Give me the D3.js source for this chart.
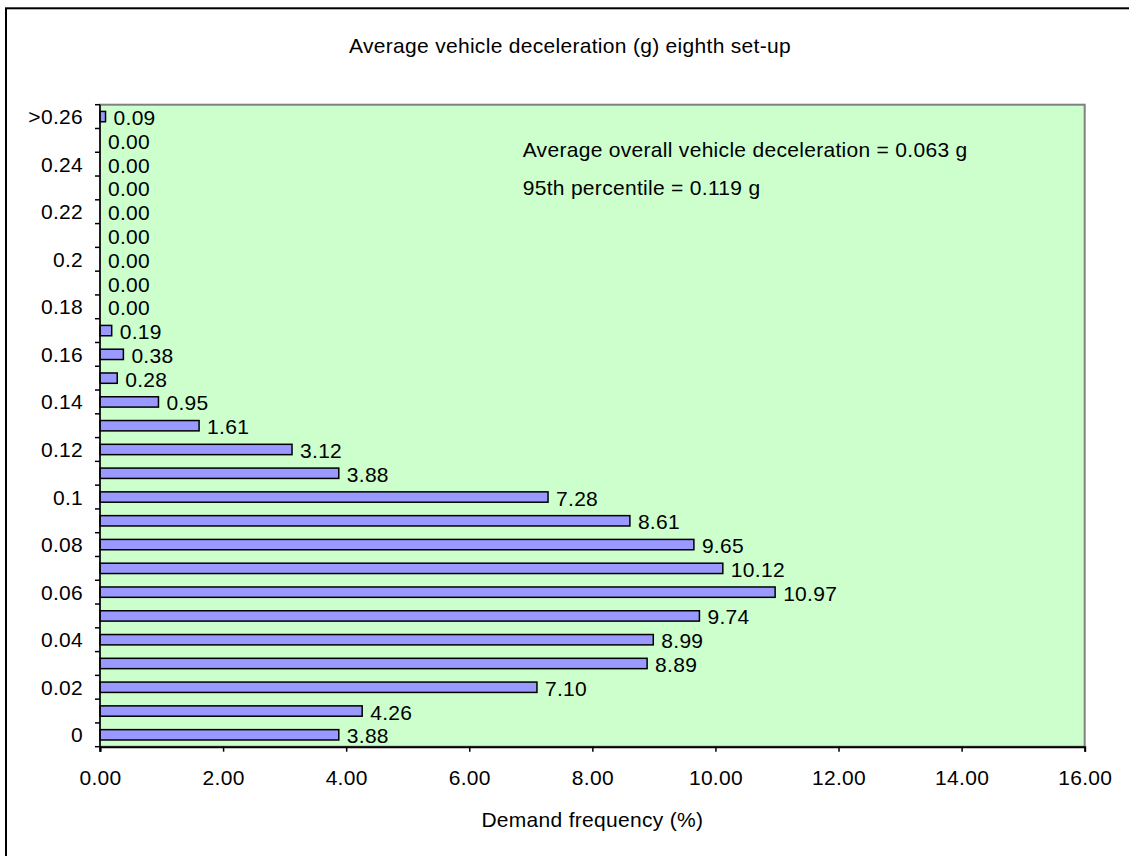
<!DOCTYPE html>
<html>
<head>
<meta charset="utf-8">
<script src="https://cdn.jsdelivr.net/npm/d3@7/dist/d3.min.js"></script>
<style>
  html, body { margin: 0; padding: 0; background: #ffffff; }
  svg { display: block; font-family: "Liberation Sans", Arial, sans-serif; }
  svg text { letter-spacing: 0.3px; }
</style>
</head>
<body>
<svg id="chart" width="1129" height="856"></svg>
<script>
// Deceleration classes (g), bottom to top
const categories = ["0","0.01","0.02","0.03","0.04","0.05","0.06","0.07","0.08","0.09",
  "0.1","0.11","0.12","0.13","0.14","0.15","0.16","0.17","0.18","0.19",
  "0.2","0.21","0.22","0.23","0.24","0.25",">0.26"];
// Demand frequency (%) for each class
const frequency = [3.88, 4.26, 7.10, 8.89, 8.99, 9.74, 10.97, 10.12, 9.65, 8.61,
  7.28, 3.88, 3.12, 1.61, 0.95, 0.28, 0.38, 0.19, 0.00, 0.00,
  0.00, 0.00, 0.00, 0.00, 0.00, 0.00, 0.09];
// Category labels shown on the vertical axis
const categoryTickLabels = ["0","0.02","0.04","0.06","0.08","0.1","0.12","0.14","0.16","0.18","0.2","0.22","0.24",">0.26"];
const xTicks = [0, 2, 4, 6, 8, 10, 12, 14, 16];
const xDomain = [0, 16];

const chartTitle = "Average vehicle deceleration (g) eighth set-up";
const xTitle = "Demand frequency (%)";
const notes = ["Average overall vehicle deceleration = 0.063 g", "95th percentile = 0.119 g"];

const svg = d3.select("#chart");
const plot = { left: 100, top: 104.7, right: 1084.7, bottom: 746.7 };

// Chart area frame (runs off the right and bottom edges)
svg.append("rect")
  .attr("x", 6).attr("y", 8.3)
  .attr("width", 1200).attr("height", 1000)
  .attr("fill", "#ffffff").attr("stroke", "#000000").attr("stroke-width", 2);

// Plot area
svg.append("rect")
  .attr("x", plot.left).attr("y", plot.top)
  .attr("width", plot.right - plot.left).attr("height", plot.bottom - plot.top)
  .attr("fill", "#ccffcc").attr("stroke", "#808080").attr("stroke-width", 2);

const x = d3.scaleLinear().domain(xDomain).range([plot.left, plot.right]);
const y = d3.scaleBand().domain(categories)
  .range([plot.bottom, plot.top])
  .paddingInner(0.565).paddingOuter(0.2825);
const yMid = c => y(c) + y.bandwidth() / 2;
// Index scale for boundary ticks between classes
const yIdx = d3.scaleLinear().domain([0, categories.length]).range([plot.bottom, plot.top]);

const rows = categories.map((c, i) => ({ c, v: frequency[i] }));

// Bars
svg.append("g").selectAll("rect")
  .data(rows.filter(d => d.v > 0))
  .join("rect")
  .attr("x", x(0))
  .attr("y", d => y(d.c))
  .attr("width", d => x(d.v) - x(0))
  .attr("height", y.bandwidth())
  .attr("fill", "#9999ff").attr("stroke", "#000000").attr("stroke-width", 1.5);

// Value labels
svg.append("g").selectAll("text")
  .data(rows)
  .join("text")
  .attr("x", d => x(d.v) + 8)
  .attr("y", d => yMid(d.c) + 1)
  .attr("dominant-baseline", "central")
  .attr("font-size", 21)
  .attr("fill", "#000000")
  .text(d => d.v.toFixed(2));

// Vertical axis
const yAxis = svg.append("g");
yAxis.append("line")
  .attr("x1", plot.left).attr("x2", plot.left)
  .attr("y1", plot.top).attr("y2", plot.bottom + 5)
  .attr("stroke", "#000000").attr("stroke-width", 1.5);
yAxis.selectAll("line.tick")
  .data(d3.range(categories.length + 1))
  .join("line").attr("class", "tick")
  .attr("x1", plot.left - 5).attr("x2", plot.left)
  .attr("y1", d => yIdx(d)).attr("y2", d => yIdx(d))
  .attr("stroke", "#000000").attr("stroke-width", 1.5);
yAxis.selectAll("text")
  .data(categoryTickLabels)
  .join("text")
  .attr("x", plot.left - 17)
  .attr("y", d => yMid(d))
  .attr("text-anchor", "end")
  .attr("dominant-baseline", "central")
  .attr("font-size", 21)
  .text(d => d);

// Horizontal axis
const xAxis = svg.append("g").attr("transform", `translate(0,${plot.bottom})`)
  .call(d3.axisBottom(x).tickValues(xTicks).tickSize(5).tickPadding(18)
    .tickFormat(d => d3.format(".2f")(d)));
xAxis.select(".domain").attr("stroke", "#000000").attr("stroke-width", 2);
xAxis.selectAll(".tick line").attr("stroke", "#000000").attr("stroke-width", 1.5);
xAxis.selectAll(".tick text")
  .attr("font-size", 21).attr("font-family", "Liberation Sans, Arial, sans-serif")
  .attr("fill", "#000000");

// Titles
svg.append("text")
  .attr("x", 570).attr("y", 53)
  .attr("text-anchor", "middle").attr("font-size", 21)
  .text(chartTitle);
svg.append("text")
  .attr("x", (plot.left + plot.right) / 2).attr("y", 827)
  .attr("text-anchor", "middle").attr("font-size", 21)
  .text(xTitle);

// Summary notes
svg.append("g").selectAll("text")
  .data(notes)
  .join("text")
  .attr("x", 522.7)
  .attr("y", (d, i) => 156.7 + i * 38.5)
  .attr("font-size", 21)
  .text(d => d);
</script>
</body>
</html>
